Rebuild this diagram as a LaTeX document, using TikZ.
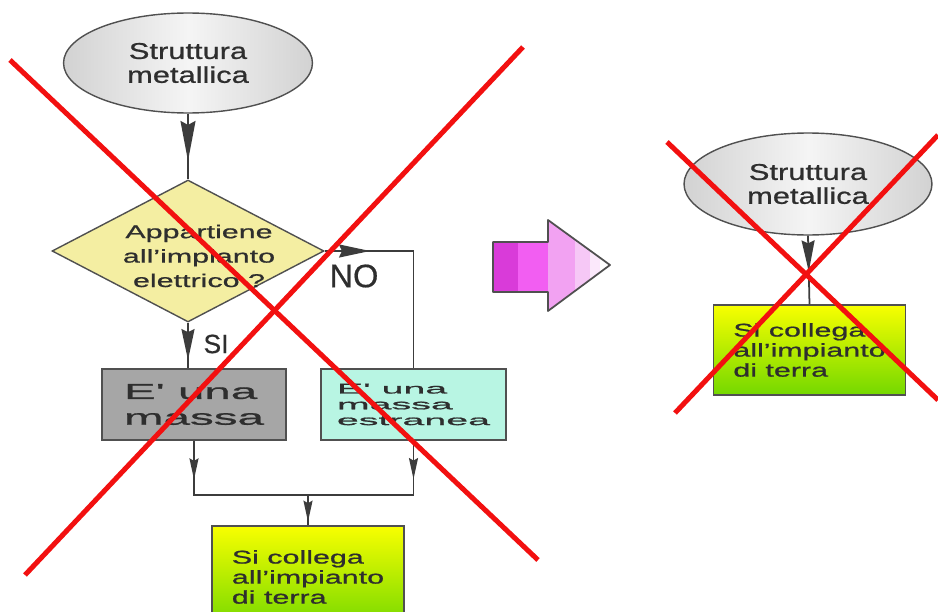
\documentclass[tikz,border=0pt]{standalone}
\usepackage{fontspec}
\setmainfont{Liberation Sans}[FakeStretch=1.65, FakeBold=0.8]
\newfontfamily\ellface{Liberation Sans}[FakeStretch=1.35, FakeBold=0.8]
\newfontfamily\massaface{Liberation Sans}[FakeStretch=2.2, FakeBold=0.8]
\newfontfamily\estraneaface{Liberation Sans}[FakeStretch=2.8, FakeBold=1.2]
\newfontfamily\labelface{Liberation Sans}[FakeBold=0.5]
\usetikzlibrary{arrows.meta,shapes.geometric,decorations.markings}

\definecolor{txtgray}{HTML}{2E2E2E}
\definecolor{edgegray}{HTML}{505050}
\definecolor{linegray}{HTML}{3C3C3C}
\definecolor{ellgray}{HTML}{D2D2D2}
\definecolor{decyellow}{HTML}{F4EEA2}
\definecolor{massgray}{HTML}{A6A6A6}
\definecolor{estrcyan}{HTML}{B8F5E3}
\definecolor{greentop}{HTML}{F8FF00}
\definecolor{greenbot}{HTML}{74D800}
\definecolor{crossred}{HTML}{F21010}
\definecolor{pinkA}{HTML}{D93BD9}
\definecolor{pinkB}{HTML}{F25EF2}
\definecolor{pinkC}{HTML}{F2A2F2}
\definecolor{pinkD}{HTML}{F6C8F6}
\definecolor{pinkE}{HTML}{FBE8FB}

\tikzset{
  bigtip/.tip={Stealth[length=0.8cm, width=0.3cm, inset=0.08cm]},
  midtip/.tip={Stealth[length=0.62cm, width=0.26cm, inset=0.06cm]},
  smalltip/.tip={Stealth[length=0.42cm, width=0.18cm, inset=0.05cm]},
  tipat/.style 2 args={postaction={decorate},
    decoration={markings, mark=at position #1 with {\arrow{#2}}}}
}

\begin{document}
\begin{tikzpicture}[x=0.02cm, y=-0.02cm]
        \tikzstyle{start}=[ellipse, draw=edgegray, line width=0.8pt, left color=ellgray, right color=ellgray, middle color=white!96!black, minimum width=4.98cm, minimum height=2cm, inner sep=0pt, align=center, text=txtgray, font=\ellface\fontsize{13}{13.6}\selectfont]
        \tikzstyle{decision}=[diamond, draw=edgegray, line width=0.8pt, fill=decyellow, minimum width=5.44cm, minimum height=2.84cm, inner sep=0pt]
        \tikzstyle{txt}=[align=center, text=txtgray, font=\fontsize{10.5}{13.9}\selectfont]
        \tikzstyle{massa}=[rectangle, draw=edgegray, line width=0.8pt, fill=massgray, minimum width=3.68cm, minimum height=1.42cm, align=left, text=txtgray, font=\massaface\fontsize{12.3}{14.7}\selectfont]
        \tikzstyle{estranea}=[rectangle, draw=edgegray, line width=0.8pt, fill=estrcyan, minimum width=3.7cm, minimum height=1.42cm, align=left, text=txtgray, font=\estraneaface\fontsize{8}{9}\selectfont]
        \tikzstyle{terra}=[rectangle, draw=edgegray, line width=0.8pt, top color=greentop, bottom color=greenbot, minimum width=3.84cm, minimum height=1.8cm, align=left, text=txtgray, font=\fontsize{10.5}{11.4}\selectfont]
        \tikzstyle{lbl}=[text=txtgray, inner sep=0pt]
        \tikzstyle{flow}=[draw=linegray, line width=1pt]
        \tikzstyle{cross}=[draw=crossred, line width=0.1cm]

        \useasboundingbox (0,0) rectangle (938,612);
        \fill[white] (0,0) rectangle (938,612);

        % before
        \begin{scope}
          \node [start] (sm1) at (188,63) {Struttura\\metallica};
          \node [decision] (app) at (188,251) {};
          \node [txt] (apptxt) at (199,256) {Appartiene\\all'impianto\\elettrico ?};
          \node [massa] (mass) at (194,404.5) {E' una\\massa};
          \node [estranea] (estr) at (413.5,404.5) {E' una\\massa\\estranea};
          \node [terra, minimum height=2.04cm] (terra1) at (308,577) {Si collega\\all'impianto\\di terra};
          \coordinate (join) at (308,495);
          \node [lbl, font=\labelface\fontsize{15}{15}\selectfont] (si) at (216,344) {SI};
          \node [lbl, font=\labelface\fontsize{18.5}{18.5}\selectfont] (no) at (354,276) {NO};
        \end{scope}
        \draw [flow, tipat={0.72}{bigtip}] (sm1.south) -- (app.north);
        \draw [flow, tipat={0.22}{midtip}] (app.east) -| (estr.north);
        \draw [flow, tipat={0.82}{midtip}] (app.south) -- (app.south |- mass.north);
        \draw [flow, tipat={0.23}{smalltip}] (mass.south) |- (join);
        \draw [flow, tipat={0.24}{smalltip}] (estr.south) |- (join);
        \draw [flow, tipat={0.88}{smalltip}] (join) -- (terra1.north);

        % arrow in between
        \begin{scope}
          \clip (493,242) -- (548,242) -- (548,220) -- (610,265) -- (548,311) -- (548,292) -- (493,292) -- cycle;
          \fill [pinkA] (490,210) rectangle (518,320);
          \fill [pinkB] (518,210) rectangle (548,320);
          \fill [pinkC] (548,210) rectangle (575,320);
          \fill [pinkD] (575,210) rectangle (590,320);
          \fill [pinkE] (590,210) rectangle (600,320);
          \fill [white] (600,210) rectangle (615,320);
        \end{scope}
        \draw [edgegray, line width=1pt, line join=round] (493,242) -- (548,242) -- (548,220) -- (610,265) -- (548,311) -- (548,292) -- (493,292) -- cycle;

        % after
        \begin{scope}
          \node [start, minimum width=4.96cm, minimum height=2.04cm] (sm2) at (808,184) {Struttura\\metallica};
          \node [terra] (terra2) at (809.5,350) {Si collega\\all'impianto\\di terra};
        \end{scope}
        \draw [flow, tipat={0.52}{midtip}] (sm2.south) -- (terra2.north);

        % crossed out
        \draw [cross] (10,60) -- (538,560);
        \draw [cross] (523,47) -- (25,575);
        \draw [cross] (667,142) -- (938,400);
        \draw [cross] (938,135) -- (675,413);
\end{tikzpicture}
\end{document}
